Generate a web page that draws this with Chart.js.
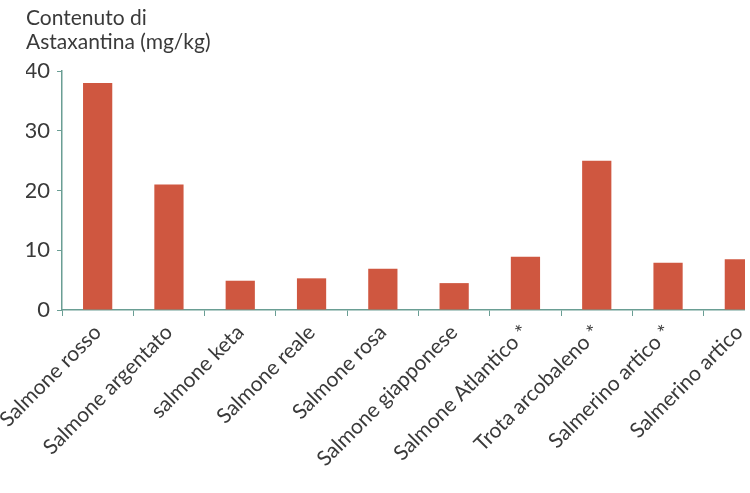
<!DOCTYPE html>
<html>
<head>
<meta charset="utf-8">
<script src="https://cdn.jsdelivr.net/npm/chart.js@4/dist/chart.umd.min.js"></script>
<style>
  html, body { margin: 0; padding: 0; background: #fff; overflow: hidden; }
  #clip { position: absolute; left: 0; top: 0; width: 745px; height: 493px; overflow: hidden; }
  #wrap { position: absolute; left: 0; top: 0; width: 800px; height: 493px; }
</style>
</head>
<body>
<div id="clip"><div id="wrap"><canvas id="c" width="800" height="493"></canvas></div></div>
<script>
const categories = [
  "Salmone rosso", "Salmone argentato", "salmone keta", "Salmone reale",
  "Salmone rosa", "Salmone giapponese", "Salmone Atlantico *",
  "Trota arcobaleno *", "Salmerino artico *", "Salmerino artico"
];
const astaxantina = [38.0, 21.0, 4.9, 5.3, 6.9, 4.5, 8.9, 25.0, 7.9, 8.5];
const titleLines = ["Contenuto di", "Astaxantina (mg/kg)"];
const yTicks = [0, 10, 20, 30, 40];

const FONT = "Lato, 'Open Sans', sans-serif";
const TEXT = "#3a3a3a";
const AXIS = "#6a9e94";
const BAR = "#cf5740";

new Chart(document.getElementById("c"), {
  type: "bar",
  data: {
    labels: categories,
    datasets: [{
      data: astaxantina,
      backgroundColor: BAR,
      borderWidth: 0,
      barPercentage: 0.41,
      categoryPercentage: 1.0
    }]
  },
  options: {
    responsive: false,
    animation: false,
    devicePixelRatio: 1,
    layout: { padding: { left: 26, right: 25, top: 0, bottom: 0 } },
    plugins: {
      legend: { display: false },
      tooltip: { enabled: false },
      title: {
        display: true,
        text: titleLines,
        align: "start",
        color: TEXT,
        font: { family: FONT, size: 21, weight: "normal", lineHeight: "24px" },
        padding: { top: 6, bottom: 17 }
      }
    },
    scales: {
      x: {
        afterFit: (s) => { s.height = 183; s.paddingLeft = 0; s.paddingRight = 0; },
        border: { display: true, color: AXIS, width: 1.5 },
        grid: { offset: true, drawOnChartArea: false, drawTicks: true, tickLength: 6, color: AXIS, lineWidth: 1 },
        ticks: {
          autoSkip: false, maxRotation: 45, minRotation: 45, padding: 4,
          color: TEXT, font: { family: FONT, size: 21 }
        }
      },
      y: {
        min: 0, max: 40,
        afterFit: (s) => { s.width = 36; },
        afterBuildTicks: (s) => { s.ticks = yTicks.map(v => ({ value: v })); },
        border: { display: true, color: AXIS, width: 1.5 },
        grid: { drawOnChartArea: false, drawTicks: true, tickLength: 5, color: AXIS },
        ticks: {
          padding: 7, color: TEXT, font: { family: FONT, size: 22 }
        }
      }
    }
  }
});
</script>
</body>
</html>
